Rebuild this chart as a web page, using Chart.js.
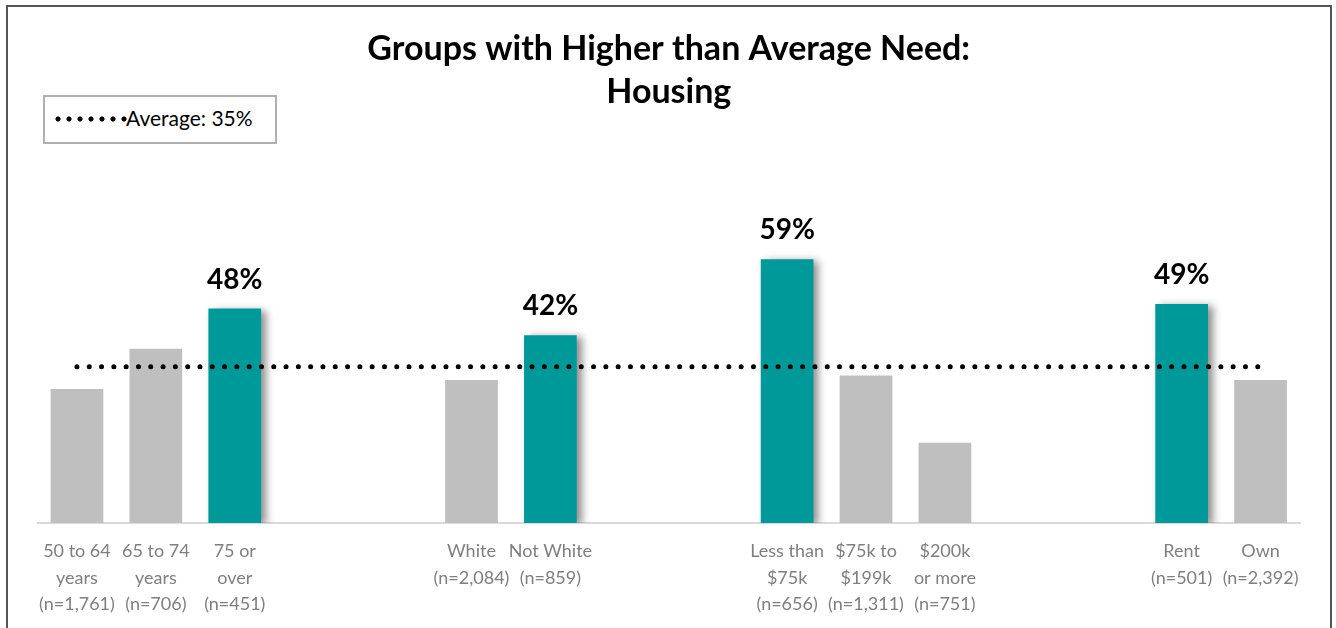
<!DOCTYPE html>
<html>
<head>
<meta charset="utf-8">
<title>Groups with Higher than Average Need: Housing</title>
<script src="https://cdn.jsdelivr.net/npm/chart.js@4/dist/chart.umd.min.js"></script>
<style>
  body { margin: 0; background: #fff; overflow: hidden; }
  #wrap { position: absolute; left: 0; top: 0; width: 1336px; height: 640px; }
  #frame { position: absolute; left: 6px; top: 5px; width: 1322px; height: 700px;
           border: 2px solid #555; pointer-events: none; }
  #legend { position: absolute; left: 43px; top: 95px; width: 230px; height: 45px;
            border: 2px solid #b0b0b0; background: #fff;
            font: 21px Lato, sans-serif; color: #000; }
  #legend .dots { position: absolute; left: 10px; top: 19px; width: 77px; height: 6px;
                  background: radial-gradient(circle at 3px 3px, #000 2.3px, transparent 2.8px);
                  background-size: 11px 6px; background-repeat: repeat-x; }
  #legend .txt { position: absolute; left: 81px; top: 8px; }
</style>
</head>
<body>
<div id="wrap"><canvas id="mychart"></canvas></div>
<div id="frame"></div>
<div id="legend"><span class="dots"></span><span class="txt">Average: 35%</span></div>
<script>
// categories, empty strings are the gaps between groups
let categories = [
  ["50 to 64", "years", "(n=1,761)"],
  ["65 to 74", "years", "(n=706)"],
  ["75 or", "over", "(n=451)"],
  "", "",
  ["White", "(n=2,084)"],
  ["Not White", "(n=859)"],
  "", "",
  ["Less than", "$75k", "(n=656)"],
  ["$75k to", "$199k", "(n=1,311)"],
  ["$200k", "or more", "(n=751)"],
  "", "",
  ["Rent", "(n=501)"],
  ["Own", "(n=2,392)"]
];
let values = [30, 39, 48, null, null, 32, 42, null, null, 59, 33, 18, null, null, 49, 32];
let higherNeed = [false, false, true, false, false, false, true, false, false, true, false, false, false, false, true, false];
let average = 35;

let grayBars = values.map((v, i) => (higherNeed[i] ? null : v));
let tealBars = values.map((v, i) => (higherNeed[i] ? v : null));
let averageLine = categories.map(() => average);

// soft drop shadow on the highlighted bars
let barShadow = {
  id: "barShadow",
  beforeDatasetDraw(chart, args) {
    if (args.index !== 1) return;
    let ctx = chart.ctx;
    ctx.save();
    ctx.shadowColor = "rgba(0,0,0,0.45)";
    ctx.shadowBlur = 8;
    ctx.shadowOffsetX = 5;
    ctx.shadowOffsetY = 2;
  },
  afterDatasetDraw(chart, args) {
    if (args.index !== 1) return;
    chart.ctx.restore();
  }
};

// percentage labels above the highlighted bars
let valueLabels = {
  id: "valueLabels",
  afterDatasetsDraw(chart) {
    let ctx = chart.ctx;
    let meta = chart.getDatasetMeta(1);
    ctx.save();
    ctx.font = "bold 28px Lato, sans-serif";
    ctx.fillStyle = "#000";
    ctx.textAlign = "center";
    ctx.textBaseline = "alphabetic";
    meta.data.forEach((bar, i) => {
      let v = tealBars[i];
      if (v == null) return;
      ctx.fillText(v + "%", bar.x, bar.y - 20);
    });
    ctx.restore();
  }
};

let mychart = document.getElementById("mychart").getContext("2d");

let chart = new Chart(mychart, {
  type: "bar",
  data: {
    labels: categories,
    datasets: [
      {
        label: "Group",
        data: grayBars,
        backgroundColor: "#bfbfbf",
        grouped: false,
        order: 2
      },
      {
        label: "Higher than average",
        data: tealBars,
        backgroundColor: "#009999",
        grouped: false,
        order: 1
      },
      {
        type: "line",
        label: "Average: 35%",
        data: averageLine,
        borderColor: "#000",
        borderWidth: 5,
        borderDash: [0, 12.3],
        borderCapStyle: "round",
        pointRadius: 0,
        fill: false,
        order: 0
      }
    ]
  },
  options: {
    responsive: true,
    maintainAspectRatio: false,
    animation: false,
    categoryPercentage: 0.8,
    barPercentage: 0.835,
    layout: { padding: { left: 37.5, right: 36, top: 0, bottom: 15.5 } },
    plugins: {
      legend: { display: false },
      tooltip: { enabled: false },
      title: {
        display: true,
        text: ["Groups with Higher than Average Need:", "Housing"],
        color: "#000",
        font: { family: "Lato", size: 34, weight: "bold", lineHeight: 1.28 },
        padding: { top: 27, bottom: 51.4 }
      }
    },
    scales: {
      x: {
        grid: { display: false, tickLength: 8 },
        border: { display: true, color: "#d9d9d9", width: 2 },
        ticks: {
          autoSkip: false,
          maxRotation: 0,
          minRotation: 0,
          padding: 7,
          color: "#7f7f7f",
          font: { family: "Lato", size: 18, lineHeight: 1.47 }
        }
      },
      y: {
        display: false,
        min: 0,
        max: 80
      }
    }
  },
  plugins: [barShadow, valueLabels]
});
</script>
</body>
</html>
